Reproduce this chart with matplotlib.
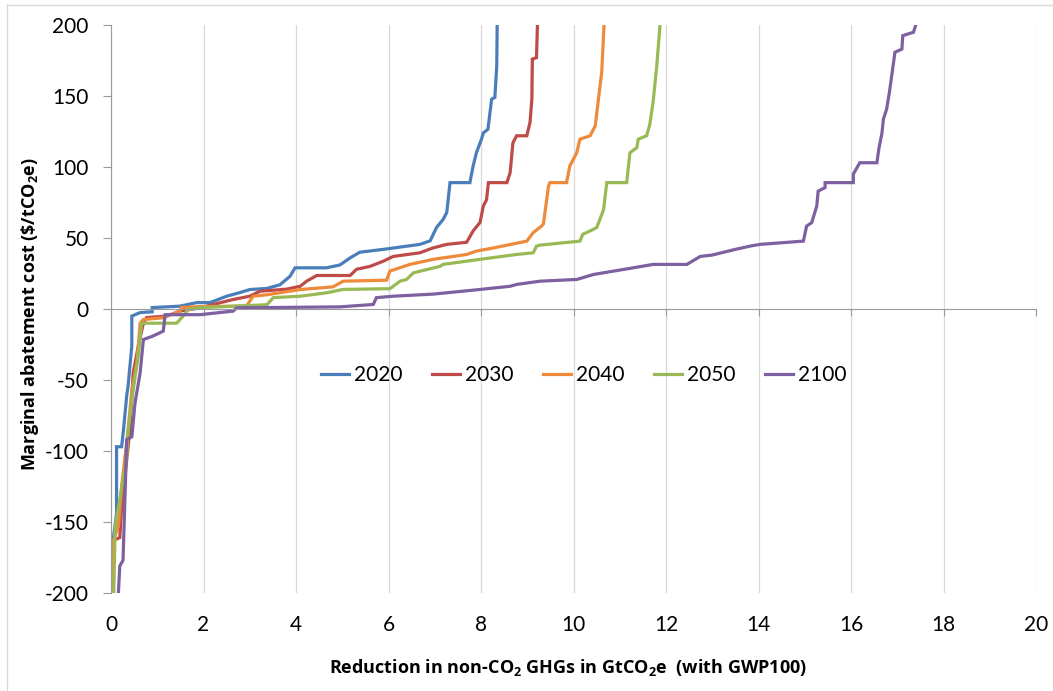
import matplotlib.pyplot as plt
from matplotlib.lines import Line2D

# series (cumulative GtCO2e, $/tCO2e)
years = ["2020", "2030", "2040", "2050", "2100"]
colors = ["#4A7EBB", "#BE4B48", "#EE8A3A", "#98B954", "#7D60A0"]

x_2020 = [0.03, 0.03, 0.12, 0.12, 0.23, 0.27, 0.34, 0.37, 0.45, 0.45, 0.63, 0.89, 0.89,
          1.49, 1.85, 2.14, 2.5, 2.79, 3.0, 3.37, 3.65, 3.87, 3.98, 4.66, 4.95, 5.17,
          5.38, 5.89, 6.25, 6.68, 6.9, 7.04, 7.18, 7.26, 7.33, 7.76, 7.83, 7.9, 8.01,
          8.05, 8.15, 8.23, 8.3, 8.34, 8.35]
y_2020 = [-200, -167, -144, -97, -97, -85, -61, -54, -26, -5, -2.5, -2, 1,
          2, 4.5, 4.5, 9, 11.6, 13.7, 14.5, 17, 23, 29, 29, 31, 36,
          40, 42, 43.6, 45.5, 48, 57.5, 63, 68, 89, 89, 100.7, 110, 119.6,
          124, 126.6, 147.8, 149, 171, 200]

x_2030 = [0.04, 0.04, 0.19, 0.23, 0.41, 0.48, 0.59, 0.7, 0.77, 1.2, 1.49, 1.92,
          2.64, 3.0, 3.22, 3.8, 4.09, 4.23, 4.45, 5.17, 5.31, 5.6, 5.89, 6.1,
          6.68, 6.96, 7.26, 7.69, 7.83, 7.98, 8.05, 8.12, 8.16, 8.56, 8.63, 8.69,
          8.77, 8.99, 9.06, 9.1, 9.11, 9.2, 9.22]
y_2030 = [-200, -163, -161, -139, -85, -45, -26, -10, -6, -5, -1.5, 0.8,
          6.7, 9, 12.5, 14, 16, 19.6, 23.6, 23.6, 28, 30, 33.7, 37,
          39.6, 43, 45.5, 47, 55, 61, 72.5, 77, 89, 89, 96, 117,
          122, 122, 131.4, 148, 176, 177, 200]

x_2040 = [0.05, 0.05, 0.16, 0.23, 0.37, 0.45, 0.56, 0.63, 0.7, 1.13, 1.49, 1.52,
          1.92, 2.93, 3.07, 3.37, 4.09, 4.8, 5.02, 5.96, 6.03, 6.46, 6.97, 7.69,
          7.9, 8.27, 8.99, 9.13, 9.31, 9.35, 9.46, 9.49, 9.85, 9.92, 10.07, 10.14,
          10.36, 10.47, 10.54, 10.61, 10.66]
y_2040 = [-200, -163, -153, -125, -85, -57, -38, -10, -7.4, -6.2, -1.5, 1,
          1.7, 2, 9, 10, 13.7, 15.6, 19.6, 20.3, 26.7, 31.4, 35, 38.4,
          40.8, 43, 47.8, 53.8, 58.4, 60, 86.6, 89, 89, 100.7, 110, 119.6,
          122, 129, 148, 166.7, 200]

x_2050 = [0.06, 0.09, 0.19, 0.34, 0.37, 0.48, 0.59, 0.66, 1.42, 1.56, 1.67, 1.92,
          3.37, 3.51, 4.09, 4.66, 5.02, 6.03, 6.25, 6.39, 6.54, 7.11, 7.18, 7.98,
          8.77, 9.13, 9.2, 9.28, 10.14, 10.2, 10.36, 10.5, 10.57, 10.65, 10.72,
          11.15, 11.22, 11.37, 11.4, 11.58, 11.65, 11.72, 11.8, 11.87]
y_2050 = [-200, -153, -134, -104, -85, -57, -33, -10, -10, -5, -0.4, 1,
          3, 8, 9, 11.4, 13.8, 14.3, 19.6, 20.8, 25.5, 30, 31.4, 35,
          38.4, 39.6, 44.3, 45, 47.8, 52.6, 55, 57.3, 63, 70, 89,
          89, 110, 113.7, 119.6, 122, 130, 145.5, 171, 200]

x_2100 = [0.16, 0.19, 0.26, 0.34, 0.45, 0.52, 0.63, 0.7, 0.91, 1.13, 1.17, 1.92,
          2.64, 2.72, 4.95, 5.67, 5.74, 6.1, 6.97, 7.84, 8.63, 8.77, 9.28, 10.07,
          10.43, 11.29, 11.72, 12.45, 12.74, 13.0, 13.5, 13.82, 14.03, 14.97, 15.04,
          15.15, 15.26, 15.29, 15.44, 15.44, 16.05, 16.05, 16.19, 16.56, 16.6, 16.67,
          16.7, 16.77, 16.83, 16.92, 16.95, 17.1, 17.12, 17.35, 17.4]
y_2100 = [-200, -181, -177, -92, -90, -66, -45, -21.5, -19, -15.6, -4, -4,
          -1.5, 0.8, 1.5, 3.2, 8, 9, 10.5, 13.3, 16, 17.3, 19.6, 20.8,
          24.3, 29, 31.4, 31.4, 37, 38, 42, 44.3, 45.5, 47.8, 58.4,
          60.8, 72.5, 83, 85.5, 89, 89, 95, 103, 103, 112.5, 124,
          133.7, 140.7, 152.5, 173.7, 180.8, 183, 192.5, 194.9, 200]

xs = [x_2020, x_2030, x_2040, x_2050, x_2100]
ys = [y_2020, y_2030, y_2040, y_2050, y_2100]

plt.rcParams['font.family'] = ['Lato', 'DejaVu Sans']
plt.rcParams['axes.unicode_minus'] = False
plt.rcParams['mathtext.fontset'] = 'custom'
plt.rcParams['mathtext.rm'] = 'Open Sans:bold'
plt.rcParams['mathtext.bf'] = 'Open Sans:bold'

fig = plt.figure(figsize=(10.53, 6.91), dpi=100)
ax = fig.add_axes([111 / 1053, 1 - 593 / 691, 925 / 1053, 568 / 691])

for x, y, c, lab in zip(xs, ys, colors, years):
    ax.plot(x, y, color=c, lw=2.3, label=lab, solid_joinstyle='miter')

ax.set_xlim(0, 20)
ax.set_ylim(-200, 200)
ax.set_xticks(range(0, 21, 2))
ax.set_yticks(range(-200, 201, 50))
ax.grid(axis='x', color='#D9D9D9', lw=0.9)
ax.set_axisbelow(True)

axis_grey = '#9A9A9A'
for s in ['top', 'right']:
    ax.spines[s].set_visible(False)
ax.spines['left'].set_color(axis_grey)
ax.spines['bottom'].set_position(('data', 0))
ax.spines['bottom'].set_color(axis_grey)
ax.tick_params(axis='x', direction='out', length=5, color=axis_grey, labelbottom=False)
ax.tick_params(axis='y', direction='out', length=6, color=axis_grey, labelsize=15, pad=10)

# tick labels at the bottom edge, axis line stays at zero
sec = ax.secondary_xaxis(0)
sec.set_xticks(range(0, 21, 2))
sec.spines['bottom'].set_visible(False)
sec.tick_params(length=0, labelsize=15, pad=16)

ax.legend(loc='center', bbox_to_anchor=(0.511, 0.384), ncol=5, frameon=False,
          fontsize=15, handlelength=1.35, handletextpad=0.2, columnspacing=1.45)

title_font = dict(family=['Open Sans', 'DejaVu Sans'], fontweight='bold', fontsize=13)
fig.text(30 / 1053, 1 - 314 / 691, r'Marginal abatement cost (\$/tCO$_\mathbf{2}$e)',
         rotation=90, ha='center', va='center', **title_font)
fig.text(568 / 1053, 1 - 667 / 691,
         r'Reduction in non-CO$_\mathbf{2}$ GHGs in GtCO$_\mathbf{2}$e  (with GWP100)',
         ha='center', va='center', **title_font)

# light chart-area border (only top and left visible in the reference)
fig.add_artist(Line2D([7 / 1053, 1], [1 - 5 / 691] * 2, transform=fig.transFigure,
                      color='#D9D9D9', lw=1))
fig.add_artist(Line2D([7 / 1053] * 2, [0, 1 - 5 / 691], transform=fig.transFigure,
                      color='#D9D9D9', lw=1))

fig.savefig('out.png', dpi=100)
